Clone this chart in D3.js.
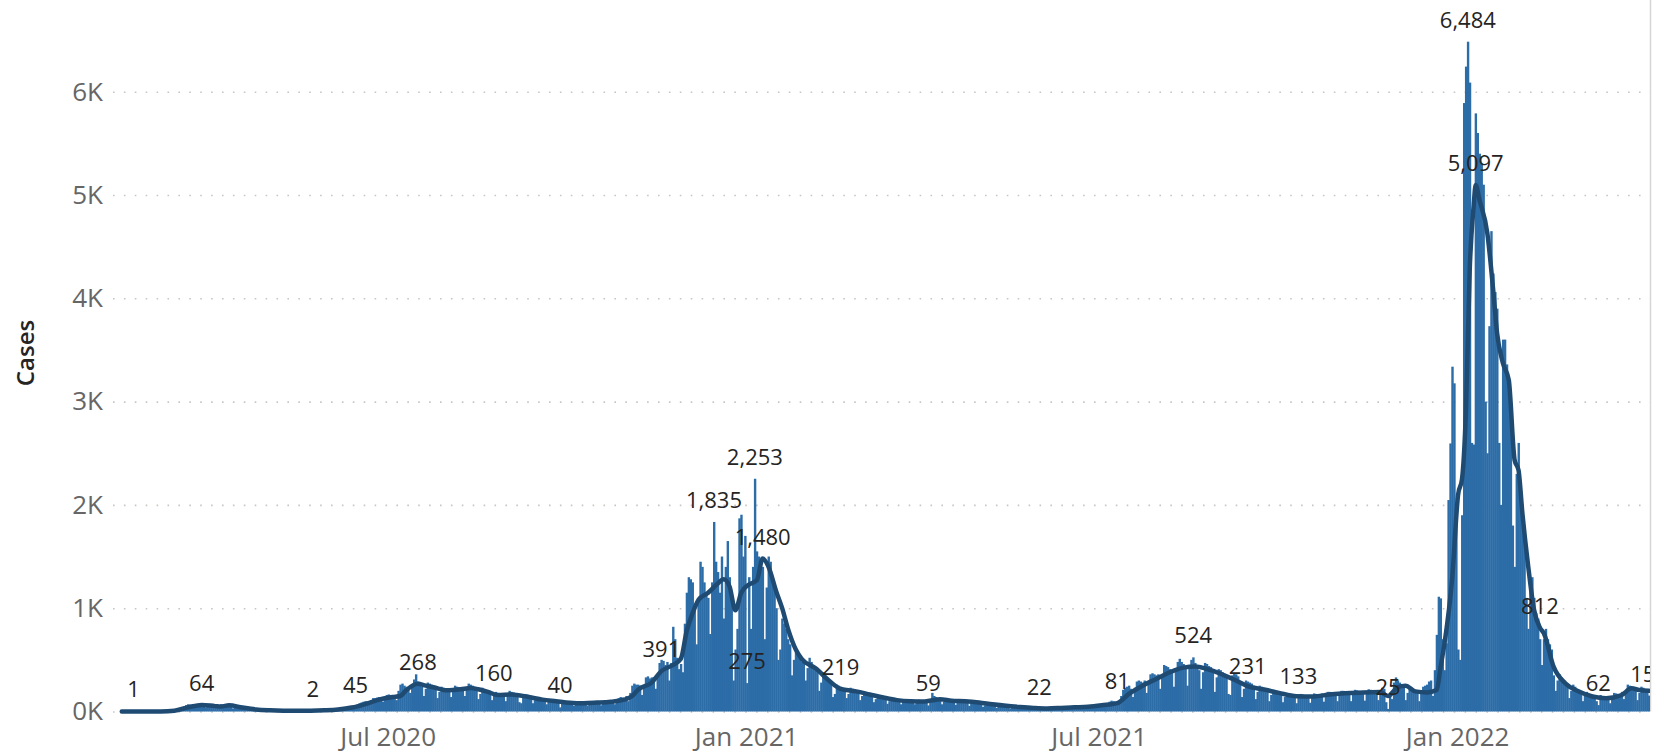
<!DOCTYPE html>
<html>
<head>
<meta charset="utf-8">
<script src="https://cdn.jsdelivr.net/npm/d3@7"></script>
<style>
html, body { margin: 0; padding: 0; background: #fff; }
svg text { font-family: "Segoe UI", "Open Sans", sans-serif; }
</style>
</head>
<body>
<svg id="chart" width="1653" height="755"></svg>
<script>
// daily cases, one row per week (Sat..Fri), first day below
var firstDay = "2020-02-15";
var cases = [
  0,0,0,0,0,0,1,
  0,0,0,1,0,0,1,
  0,1,0,1,2,1,3,
  2,1,4,6,9,12,18,
  20,15,28,38,50,62,70,
  66,48,60,72,70,68,64,
  55,40,45,58,55,52,56,
  50,42,70,68,66,62,62,
  45,30,36,40,38,42,35,
  28,18,20,22,18,16,18,
  14,9,12,14,11,13,11,
  9,6,8,9,8,7,9,
  7,5,6,8,7,8,8,
  6,4,7,9,8,10,10,
  2,8,9,12,14,16,18,
  15,10,18,22,24,25,26,
  28,20,35,40,45,48,50,
  52,45,70,80,88,95,100,
  100,80,110,130,130,135,140,
  130,95,140,160,165,155,150,
  120,110,200,260,270,250,240,
  230,180,250,310,360,290,270,
  240,150,220,280,270,260,250,
  220,130,190,240,230,225,215,
  210,140,200,250,240,235,230,
  220,150,210,270,260,250,215,
  200,120,170,230,210,200,195,
  170,110,160,190,180,170,140,
  160,100,150,200,190,185,170,
  150,90,80,160,170,165,160,
  130,80,110,140,130,125,120,
  115,70,95,120,110,105,100,
  95,40,80,100,95,90,85,
  85,55,75,95,90,80,80,
  90,55,75,100,95,100,95,
  95,60,85,110,105,110,100,
  110,70,100,130,140,135,130,
  150,100,180,250,270,260,260,
  250,160,230,330,340,320,330,
  330,220,340,470,500,490,450,
  480,300,470,820,700,520,410,
  460,380,850,1150,1300,1280,1250,
  1000,650,1100,1450,1400,1250,1150,
  1100,750,1250,1835,1450,1350,1150,
  1500,900,1400,1650,1300,1100,300,
  600,800,1870,1905,1500,1700,275,
  1300,800,1400,2253,1550,1500,1450,
  1400,700,1200,1500,1450,1300,1200,
  1000,500,600,900,850,800,700,
  650,350,500,600,560,520,480,
  500,300,420,520,480,450,400,
  380,200,280,380,340,320,300,
  280,140,170,260,250,240,220,
  220,130,170,230,220,210,200,
  190,110,150,190,180,170,160,
  150,90,120,160,150,140,135,
  120,75,100,130,120,115,110,
  110,70,95,120,110,105,100,
  105,70,90,115,110,110,100,
  110,59,120,180,150,140,130,
  120,70,95,120,115,110,105,
  110,65,95,120,115,105,95,
  95,55,80,105,100,95,90,
  75,45,60,80,78,75,70,
  60,35,48,62,60,58,56,
  48,28,38,50,50,48,45,
  40,25,30,40,38,36,35,
  30,20,22,35,38,36,30,
  35,22,30,40,42,40,38,
  40,25,35,45,48,45,42,
  45,28,40,50,52,50,48,
  55,35,55,70,72,68,65,
  70,45,60,95,105,100,95,
  100,90,150,210,230,240,250,
  220,140,230,290,300,290,280,
  300,180,290,360,370,360,350,
  360,220,360,450,440,430,410,
  400,240,400,480,510,480,460,
  430,250,420,500,524,470,440,
  400,220,380,470,460,440,430,
  380,190,330,410,400,380,360,
  330,170,160,350,370,360,340,
  290,140,220,300,290,280,270,
  250,120,190,250,240,230,220,
  210,100,160,210,200,195,190,
  180,90,140,180,170,165,160,
  160,80,133,170,165,160,155,
  160,85,135,175,170,165,160,
  175,95,150,190,190,185,180,
  185,100,160,200,200,195,190,
  190,100,165,210,205,200,190,
  195,105,170,215,210,205,200,
  200,110,180,230,220,90,25,
  180,120,280,330,300,280,260,
  230,110,180,230,220,210,200,
  200,100,170,240,250,260,290,
  300,150,400,742,1111,1095,700,
  400,660,2047,2595,3338,3177,2000,
  600,500,1900,5890,6243,6484,6088,
  2600,2584,5790,5600,5400,5300,5100,
  3000,2500,3730,4650,4240,4060,3900,
  2600,2000,3600,3600,3360,3100,2900,
  1800,1400,2300,2600,2200,2000,1800,
  1100,800,1200,1300,1100,950,900,
  700,450,700,800,700,650,600,
  350,200,300,360,330,290,260,
  250,130,200,260,240,220,210,
  180,100,150,190,170,160,150,
  140,100,62,160,150,145,140,
  145,80,130,180,175,170,165,
  190,120,200,260,250,240,230,
  220,110,180,240,230,215,200,
  154
];

// 7-day average
var avgPoints = [
  ["2020-02-15",0],["2020-02-21",0.3],["2020-03-06",1],["2020-03-13",8],["2020-03-20",40],
  ["2020-03-27",64],["2020-04-03",52],["2020-04-06",48],["2020-04-10",60],["2020-04-17",38],
  ["2020-04-24",20],["2020-05-01",12],["2020-05-08",8],["2020-05-15",7],["2020-05-22",8],
  ["2020-05-29",12],["2020-06-05",20],["2020-06-12",38],["2020-06-19",72],["2020-06-26",115],
  ["2020-07-03",140],["2020-07-07",150],["2020-07-10",205],["2020-07-16",268],["2020-07-20",250],
  ["2020-07-24",235],["2020-07-31",205],["2020-08-07",215],["2020-08-12",228],["2020-08-16",215],
  ["2020-08-21",190],["2020-08-26",160],["2020-09-02",165],["2020-09-11",140],["2020-09-18",115],
  ["2020-09-25",100],["2020-10-02",85],["2020-10-09",80],["2020-10-16",86],["2020-10-23",95],
  ["2020-10-30",115],["2020-11-03",150],["2020-11-06",210],["2020-11-13",280],["2020-11-18",391],
  ["2020-11-24",450],["2020-11-28",510],["2020-12-01",780],["2020-12-04",950],["2020-12-07",1080],
  ["2020-12-12",1150],["2020-12-17",1240],["2020-12-20",1280],["2020-12-23",1210],["2020-12-26",980],
  ["2020-12-29",1150],["2021-01-02",1230],["2021-01-06",1270],["2021-01-09",1480],["2021-01-12",1400],
  ["2021-01-16",1160],["2021-01-19",1000],["2021-01-22",800],["2021-01-26",600],["2021-01-29",510],
  ["2021-02-05",420],["2021-02-12",300],["2021-02-18",219],["2021-02-26",195],["2021-03-05",165],
  ["2021-03-12",135],["2021-03-19",110],["2021-03-26",100],["2021-04-02",98],["2021-04-06",108],
  ["2021-04-10",118],["2021-04-16",105],["2021-04-23",100],["2021-04-30",88],["2021-05-07",70],
  ["2021-05-14",55],["2021-05-21",44],["2021-05-28",35],["2021-06-04",30],["2021-06-11",34],
  ["2021-06-18",40],["2021-06-25",46],["2021-07-02",60],["2021-07-10",81],["2021-07-16",170],
  ["2021-07-23",250],["2021-07-30",315],["2021-08-06",380],["2021-08-13",425],["2021-08-19",435],
  ["2021-08-27",400],["2021-09-03",350],["2021-09-09",300],["2021-09-15",245],["2021-09-24",210],
  ["2021-10-01",180],["2021-10-10",148],["2021-10-19",145],["2021-10-27",165],["2021-11-04",176],
  ["2021-11-13",185],["2021-11-22",188],["2021-11-26",150],["2021-12-01",235],["2021-12-05",250],
  ["2021-12-10",195],["2021-12-16",185],["2021-12-21",208],["2021-12-23",433],["2021-12-25",658],
  ["2021-12-29",1300],["2022-01-01",2100],["2022-01-03",2250],["2022-01-05",2900],["2022-01-07",4300],
  ["2022-01-09",4900],["2022-01-10",5097],["2022-01-12",4950],["2022-01-16",4629],["2022-01-19",4080],
  ["2022-01-21",3661],["2022-01-24",3371],["2022-01-27",3209],["2022-01-30",2435],["2022-02-01",2337],
  ["2022-02-03",1918],["2022-02-06",1402],["2022-02-09",983],["2022-02-12",812],["2022-02-14",757],
  ["2022-02-19",434],["2022-02-25",273],["2022-03-04",193],["2022-03-11",145],["2022-03-18",128],
  ["2022-03-26",160],["2022-03-31",224],["2022-04-04",208],["2022-04-09",200]
];

// data labels shown on the chart
var labelPoints = [
  ["2020-02-21",1],["2020-03-27",64],["2020-05-23",2],["2020-06-14",45],["2020-07-16",268],
  ["2020-08-24",160],["2020-09-27",40],["2020-11-18",391],["2020-12-15",1835],["2021-01-01",275],
  ["2021-01-05",2253],["2021-01-09",1480],["2021-02-18",219],["2021-04-04",59],["2021-05-31",22],
  ["2021-07-10",81],["2021-08-18",524],["2021-09-15",231],["2021-10-11",133],["2021-11-26",25],
  ["2022-01-06",6484],["2022-01-10",5097],["2022-02-12",812],["2022-03-14",62],["2022-04-09",154]
];

var yTicks = [0, 1000, 2000, 3000, 4000, 5000, 6000];
var xTicks = ["2020-07-01", "2021-01-01", "2021-07-01", "2022-01-01"];

var parse = d3.utcParse("%Y-%m-%d");
var start = parse(firstDay);
var data = cases.map(function (v, i) {
    return {date: d3.utcDay.offset(start, i), value: v};
});

var left = 113, right = 1650;
var svg = d3.select("#chart");

var x = d3.scaleUtc()
    .domain([parse("2020-02-11"), parse("2022-04-10")])
    .range([left, right]);
var y = d3.scaleLinear()
    .domain([0, 6000])
    .range([711.5, 91.7]);
var bw = x(d3.utcDay.offset(start, 1)) - x(start);

svg.append("defs").append("clipPath").attr("id", "plot")
    .append("rect").attr("x", left).attr("y", 0).attr("width", right - left).attr("height", 755);

// dotted gridlines
var grid = svg.append("g")
    .attr("transform", "translate(" + left + ",0)")
    .call(d3.axisLeft(y).tickValues(yTicks).tickSize(-(right - left)).tickFormat(""));
grid.select(".domain").remove();
grid.selectAll("line")
    .attr("stroke", "#c8c6c4")
    .attr("stroke-width", 1.6)
    .attr("stroke-dasharray", "1.6 9.3");

// y axis labels
var yAxis = svg.append("g")
    .attr("transform", "translate(" + left + ",0)")
    .call(d3.axisLeft(y).tickValues(yTicks).tickSize(0).tickPadding(10)
        .tickFormat(function (d) { return (d / 1000) + "K"; }));
yAxis.select(".domain").remove();
yAxis.selectAll("text")
    .attr("fill", "#666")
    .style("font-size", "26px")
    .style("font-family", "'Segoe UI', 'Open Sans', sans-serif");

// x axis labels
var xAxis = svg.append("g")
    .attr("transform", "translate(0," + y(0) + ")")
    .call(d3.axisBottom(x).tickValues(xTicks.map(parse)).tickSize(0).tickPadding(16)
        .tickFormat(d3.utcFormat("%b %Y")));
xAxis.select(".domain").remove();
xAxis.selectAll("text")
    .attr("fill", "#666")
    .style("font-size", "26px")
    .style("font-family", "'Segoe UI', 'Open Sans', sans-serif");

svg.append("text")
    .attr("transform", "translate(24,353) rotate(-90)")
    .attr("text-anchor", "middle")
    .attr("dominant-baseline", "central")
    .attr("fill", "#252423")
    .style("font-size", "24px")
    .style("font-weight", 600)
    .text("Cases");

// right edge of the visual
svg.append("line")
    .attr("x1", right + 0.5).attr("x2", right + 0.5)
    .attr("y1", 0).attr("y2", y(0))
    .attr("stroke", "#d6d6d6").attr("stroke-width", 1.5);

var plot = svg.append("g").attr("clip-path", "url(#plot)");

plot.selectAll("rect.bar")
    .data(data)
    .enter().append("rect")
    .attr("class", "bar")
    .attr("x", function (d) { return x(d.date); })
    .attr("width", bw + 0.45)
    .attr("y", function (d) { return y(d.value); })
    .attr("height", function (d) { return y(0) - y(d.value); })
    .attr("fill", "#2c6ca7");

var avg = avgPoints.map(function (p) { return {date: parse(p[0]), value: p[1]}; });
var line = d3.line()
    .x(function (d) { return x(d.date) + bw / 2; })
    .y(function (d) { return y(d.value); })
    .curve(d3.curveMonotoneX);

plot.append("path")
    .datum(avg)
    .attr("d", line)
    .attr("fill", "none")
    .attr("stroke", "#1f4b73")
    .attr("stroke-width", 4.5)
    .attr("stroke-linejoin", "round")
    .attr("stroke-linecap", "round");

var fmt = d3.format(",");
plot.selectAll("text.lbl")
    .data(labelPoints)
    .enter().append("text")
    .attr("class", "lbl")
    .attr("x", function (d) { return x(parse(d[0])) + bw / 2; })
    .attr("y", function (d) { return y(d[1]) - 14; })
    .attr("text-anchor", "middle")
    .attr("fill", "#252423")
    .style("font-size", "22px")
    .text(function (d) { return fmt(d[1]); });
</script>
</body>
</html>
